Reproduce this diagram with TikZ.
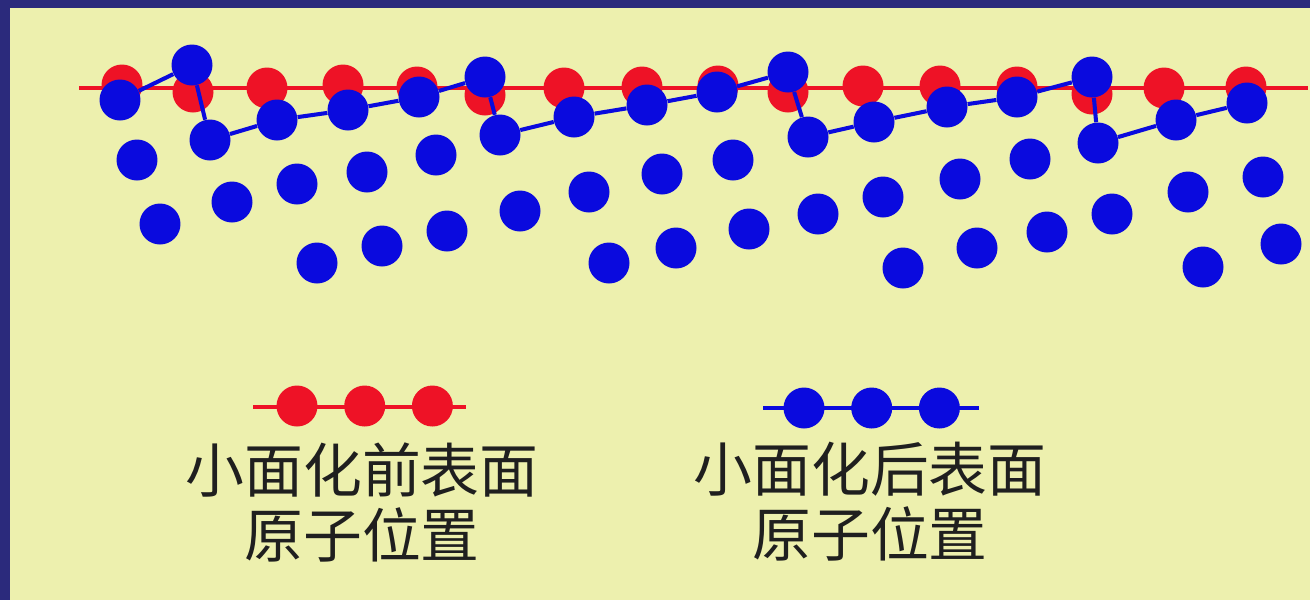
\documentclass[tikz,border=0pt]{standalone}
\usepackage{fontspec}
\newfontfamily\cjk{Noto Sans CJK SC}
\usepackage{tikz}
\usetikzlibrary{
  positioning
}
\definecolor{frameblue}{RGB}{43,42,124}
\definecolor{paper}{RGB}{237,240,174}
\definecolor{atomred}{RGB}{238,18,38}
\definecolor{atomblue}{RGB}{10,10,222}

\begin{document}
\begin{tikzpicture}[
      x=0.02cm, y=-0.02cm,
      atom/.style={
         circle,
         inner sep=0pt,
         minimum size=0.82cm
      },
      red atom/.style={atom, fill=atomred},
      blue atom/.style={atom, fill=atomblue},
      red bond/.style={draw=atomred, line width=2pt},
      bond/.style={draw=atomblue, line width=2.3pt},
      caption/.style={
         align=center,
         text=black!88,
         font=\cjk\fontsize{33.5}{37}\selectfont
      }
    ]
    \useasboundingbox (0,0) rectangle (1310,600);
    \fill[frameblue] (0,0) rectangle (1310,600);
    \fill[paper] (10,8) rectangle (1310,600);

    % surface before faceting
    \coordinate (rl) at (79,88);
    \coordinate (rr) at (1308,88);
    \draw[red bond] (rl) -- (rr);
    \foreach \x/\y [count=\i] in {122/85,193/92,267/88,343/85,417/87,485/95,
        564/88,642/87,718/86,788/92,863/86,940/86,1017/87,1092/94,1164/88,1246/87}
       \node (r\i) [red atom] at (\x,\y) {};

    % faceted surface
    \foreach \x/\y [count=\i] in {120/100,192/65,210/140,277/120,348/110,419/97,
        485/77,500/135,574/117,647/105,717/92,788/72,808/137,874/122,947/107,
        1017/97,1092/77,1098/143,1176/120,1247/103}
       \node (b\i) [blue atom] at (\x,\y) {};
    \foreach \i [remember=\i as \j (initially 1)] in {2,...,20}
       \draw[bond] (b\j) -- (b\i);

    % bulk
    \foreach \x/\y [count=\i] in {137/160,160/224,232/202,297/184,317/263,
        367/172,382/246,436/155,447/231,520/211,589/192,609/263,662/174,
        676/248,733/160,749/229,818/214,883/197,903/268,960/179,977/248,
        1030/159,1047/232,1112/214,1188/192,1203/267,1263/177,1281/244}
       \node (d\i) [blue atom] at (\x,\y) {};

    % key
    \coordinate (kl1) at (253,407);
    \coordinate (kr1) at (466,407);
    \draw[red bond] (kl1) -- (kr1);
    \node (k11) [red atom] at (297,406) {};
    \node (k12) [red atom, right=26 of k11] {};
    \node (k13) [red atom, right=26 of k12] {};
    \node (t1) [caption] at (362,502) {小面化前表面\\原子位置};

    \coordinate (kl2) at (763,408);
    \coordinate (kr2) at (979,408);
    \draw[bond] (kl2) -- (kr2);
    \node (k21) [blue atom] at (804,408) {};
    \node (k22) [blue atom, right=26 of k21] {};
    \node (k23) [blue atom, right=26 of k22] {};
    \node (t2) [caption] at (870,502) {小面化后表面\\原子位置};
\end{tikzpicture}
\end{document}
